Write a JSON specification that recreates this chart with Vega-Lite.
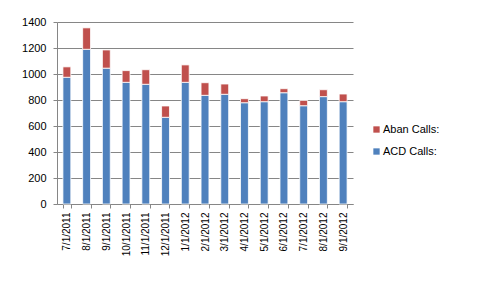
{
  "$schema": "https://vega.github.io/schema/vega-lite/v6.json",
  "width": 296,
  "height": 182,
  "autosize": {"type": "none"},
  "padding": {"left": 57, "top": 22, "right": 124, "bottom": 81},
  "background": "white",
  "config": {
    "view": {"stroke": null},
    "font": "Liberation Sans",
    "axis": {"domainColor": "#868686", "tickColor": "#868686", "gridColor": "#868686", "labelColor": "#000000", "labelFont": "Liberation Sans"}
  },
  "data": {
    "values": [
      {"month": "7/1/2011", "series": "ACD Calls:", "ord": 1, "calls": 975},
      {"month": "7/1/2011", "series": "Aban Calls:", "ord": 2, "calls": 80},
      {"month": "8/1/2011", "series": "ACD Calls:", "ord": 1, "calls": 1190},
      {"month": "8/1/2011", "series": "Aban Calls:", "ord": 2, "calls": 165},
      {"month": "9/1/2011", "series": "ACD Calls:", "ord": 1, "calls": 1045},
      {"month": "9/1/2011", "series": "Aban Calls:", "ord": 2, "calls": 140},
      {"month": "10/1/2011", "series": "ACD Calls:", "ord": 1, "calls": 936},
      {"month": "10/1/2011", "series": "Aban Calls:", "ord": 2, "calls": 90},
      {"month": "11/1/2011", "series": "ACD Calls:", "ord": 1, "calls": 921},
      {"month": "11/1/2011", "series": "Aban Calls:", "ord": 2, "calls": 112},
      {"month": "12/1/2011", "series": "ACD Calls:", "ord": 1, "calls": 667},
      {"month": "12/1/2011", "series": "Aban Calls:", "ord": 2, "calls": 87},
      {"month": "1/1/2012", "series": "ACD Calls:", "ord": 1, "calls": 936},
      {"month": "1/1/2012", "series": "Aban Calls:", "ord": 2, "calls": 134},
      {"month": "2/1/2012", "series": "ACD Calls:", "ord": 1, "calls": 836},
      {"month": "2/1/2012", "series": "Aban Calls:", "ord": 2, "calls": 97},
      {"month": "3/1/2012", "series": "ACD Calls:", "ord": 1, "calls": 844},
      {"month": "3/1/2012", "series": "Aban Calls:", "ord": 2, "calls": 79},
      {"month": "4/1/2012", "series": "ACD Calls:", "ord": 1, "calls": 779},
      {"month": "4/1/2012", "series": "Aban Calls:", "ord": 2, "calls": 31},
      {"month": "5/1/2012", "series": "ACD Calls:", "ord": 1, "calls": 787},
      {"month": "5/1/2012", "series": "Aban Calls:", "ord": 2, "calls": 44},
      {"month": "6/1/2012", "series": "ACD Calls:", "ord": 1, "calls": 856},
      {"month": "6/1/2012", "series": "Aban Calls:", "ord": 2, "calls": 31},
      {"month": "7/1/2012", "series": "ACD Calls:", "ord": 1, "calls": 756},
      {"month": "7/1/2012", "series": "Aban Calls:", "ord": 2, "calls": 41},
      {"month": "8/1/2012", "series": "ACD Calls:", "ord": 1, "calls": 826},
      {"month": "8/1/2012", "series": "Aban Calls:", "ord": 2, "calls": 53},
      {"month": "9/1/2012", "series": "ACD Calls:", "ord": 1, "calls": 787},
      {"month": "9/1/2012", "series": "Aban Calls:", "ord": 2, "calls": 59}
    ]
  },
  "mark": {"type": "bar", "stroke": "white", "strokeWidth": 0.8},
  "encoding": {
    "x": {
      "field": "month",
      "type": "nominal",
      "sort": null,
      "scale": {"paddingInner": 0.6, "paddingOuter": 0.3},
      "axis": {"title": null, "labelAngle": -90, "labelFontSize": 10, "labelPadding": 4, "tickBand": "extent", "tickSize": 4, "domainColor": "#868686"}
    },
    "y": {
      "field": "calls",
      "type": "quantitative",
      "stack": "zero",
      "scale": {"domain": [0, 1400], "nice": false},
      "axis": {"title": null, "values": [0, 200, 400, 600, 800, 1000, 1200, 1400], "format": "d", "labelFontSize": 11, "labelPadding": 7, "tickSize": 4, "gridWidth": 1}
    },
    "color": {
      "field": "series",
      "type": "nominal",
      "scale": {"domain": ["Aban Calls:", "ACD Calls:"], "range": ["#C0504D", "#4F81BD"]},
      "legend": {"title": null, "orient": "none", "legendX": 314, "legendY": 102, "symbolType": "square", "symbolSize": 40, "symbolStrokeWidth": 0, "labelFontSize": 11, "rowPadding": 10, "labelOffset": 1}
    },
    "order": {"field": "ord", "type": "quantitative"}
  }
}
